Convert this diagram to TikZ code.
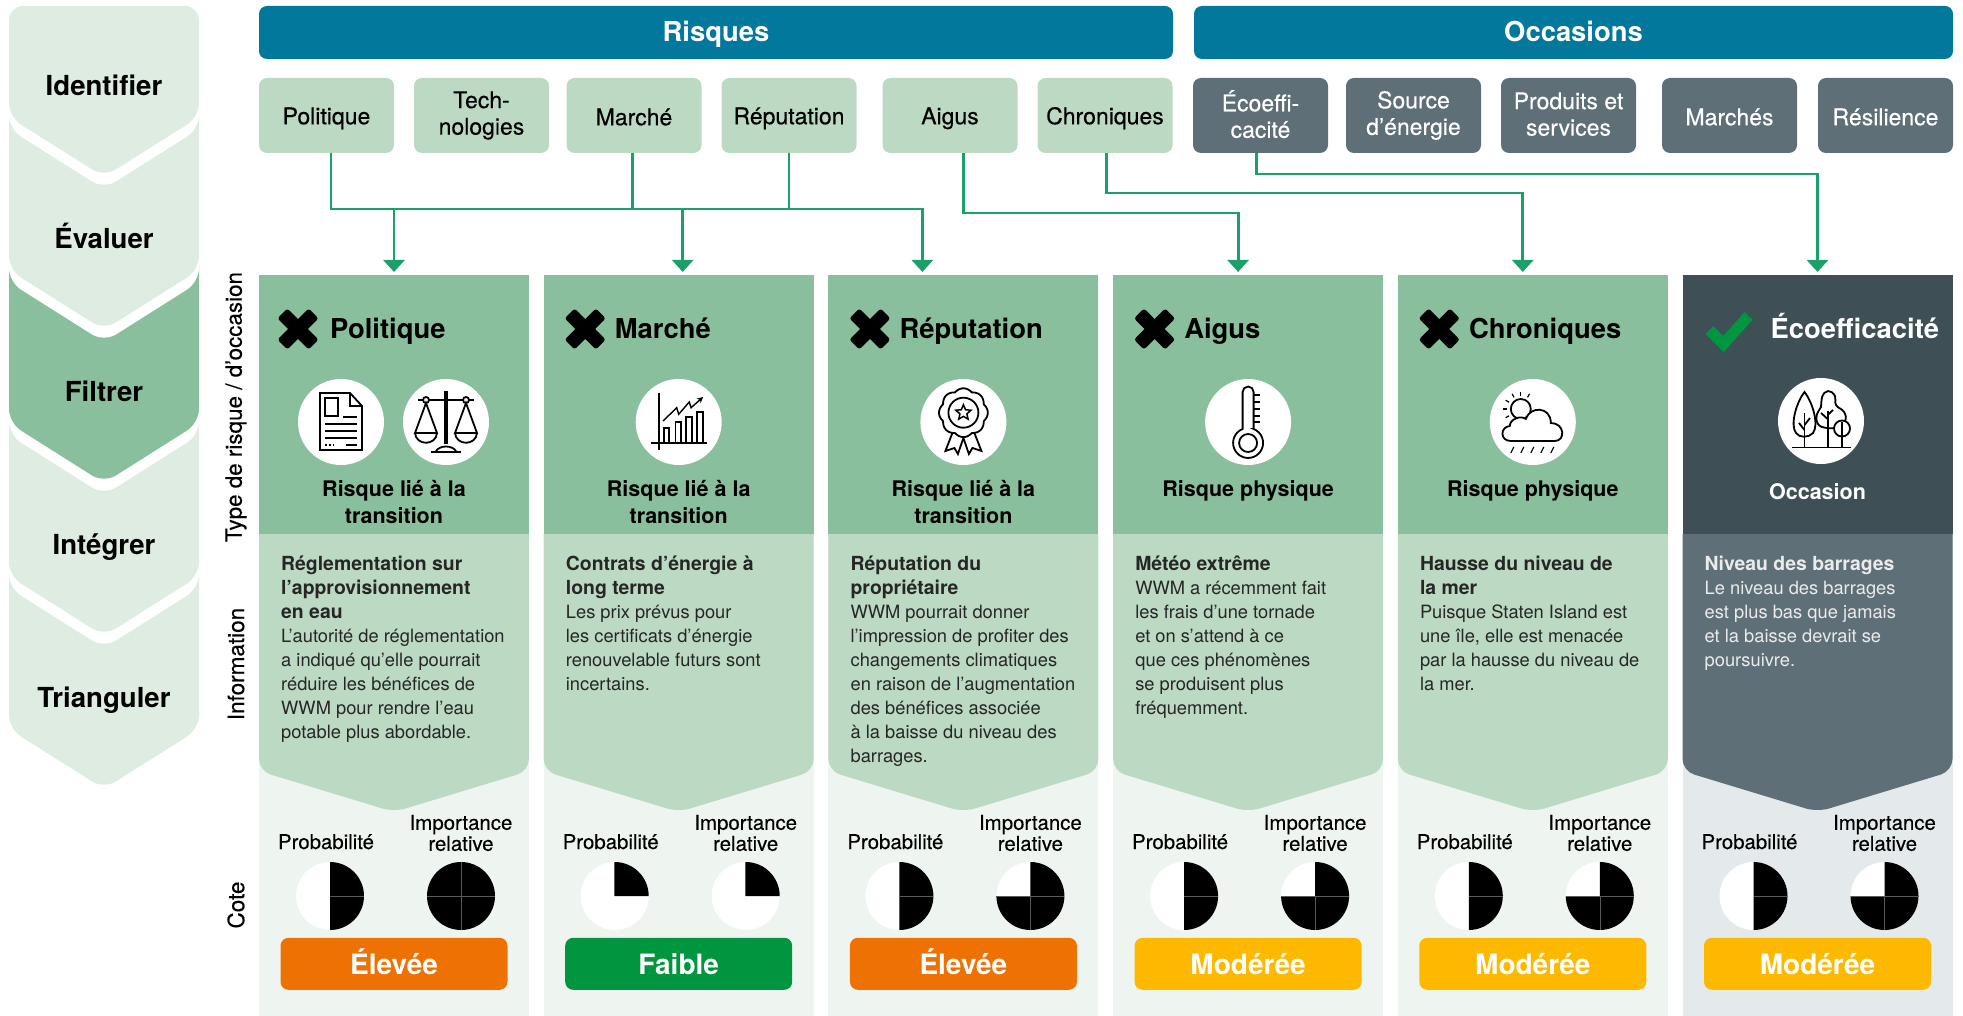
\documentclass[tikz,border=0pt]{standalone}
\usepackage{fontspec}
\setmainfont{TeX Gyre Heros}
\newfontfamily\medfont[FakeBold=0.3]{TeX Gyre Heros}
\usetikzlibrary{arrows.meta, positioning, shapes.geometric}

\definecolor{barblue}{HTML}{02789D}
\definecolor{palegreen}{HTML}{DFECE2}
\definecolor{midgreen}{HTML}{89BF9C}
\definecolor{softgreen}{HTML}{BCD9C3}
\definecolor{mistgreen}{HTML}{EEF4F0}
\definecolor{slate}{HTML}{5F6F77}
\definecolor{darkslate}{HTML}{3F4F56}
\definecolor{mistgrey}{HTML}{E4E9EC}
\definecolor{linkgreen}{HTML}{19A06B}
\definecolor{highrate}{HTML}{EE7203}
\definecolor{lowrate}{HTML}{009640}
\definecolor{midrate}{HTML}{FDB900}

% chevrons on the left: tip, top, colour
\newcommand{\stepshape}[3]{
  \fill[#3, rounded corners=14pt] (9,-#2) -- (9,-#1+55) -- (104,-#1-5) -- (199,-#1+55) -- (199,-#2) -- cycle;}
\newcommand{\stepgap}[2]{
  \fill[white, rounded corners=14pt] (9,-#2) -- (9,-#1+43) -- (104,-#1-17) -- (199,-#1+43) -- (199,-#2) -- cycle;}
% bold lead of the text blocks
\newcommand{\lead}[1]{{\fontsize{19.4}{24}\bfseries\selectfont #1}}
% panel with a point under the header
\newcommand{\infopanel}[2]{
  \fill[#2] (#1.south east) -- (#1.south west) [rounded corners=12pt] -- ++(0,-237) -- ++(135,-41) -- ++(135,41) [sharp corners] -- (#1.south east) -- cycle;}
% header, x in the header
\newcommand{\crossmark}[2]{
  \begin{scope}[shift={(#1.north west)}, shift={(#2,-54)}]
    \fill[black, rounded corners=2.5pt, rotate=45] (-22,-7) rectangle (22,7);
    \fill[black, rounded corners=2.5pt, rotate=-45] (-22,-7) rectangle (22,7);
  \end{scope}}
% rating disc: name, panel, x in the panel, black part, inner lines
\newcommand{\ratepie}[5]{
  \node (#1) [piedisc] at ([shift={(#3,-362)}]#2.north west) {};
  \fill[black] (#1.center) -- ++(0,34) arc[start angle=90, delta angle=-#4, radius=34pt] -- cycle;
  \foreach \a in {#5} \draw[pieline] (#1.center) -- ++(\a:34pt);}

\newcommand{\icondoc}[1]{
  \begin{scope}[shift={(#1.center)}, icon]
    \draw (-21,29) -- (9,29) -- (21,16) -- (21,-28) -- (-21,-28) -- cycle;
    \draw (9,29) -- (9,16) -- (21,16);
    \draw (-16,24) rectangle (-3,6);
    \draw (2,5) -- (16,5);
    \draw (-16,-2) -- (16,-2);
    \draw (-16,-9) -- (16,-9);
    \draw (-16,-16) -- (16,-16);
    \draw[dotted] (-16,-23) -- (-6,-23);
    \draw (5,-23) -- (16,-23);
  \end{scope}}
\newcommand{\iconscales}[1]{
  \begin{scope}[shift={(#1.center)}, icon]
    \draw[line width=3.5pt] (0,31) -- (0,-22);
    \draw (-28,22) -- (28,22);
    \draw (-15,-30) -- (15,-30);
    \draw (-10,-29) .. controls (-6,-23) and (6,-23) .. (10,-29);
    \draw[fill=white] (-20,22) circle (3pt);
    \draw[fill=white] (20,22) circle (3pt);
    \draw (-20,19) -- (-31,-11) -- (-9,-11) -- cycle;
    \draw (20,19) -- (31,-11) -- (9,-11) -- cycle;
    \draw (-31,-11) .. controls (-30,-24) and (-10,-24) .. (-9,-11);
    \draw (31,-11) .. controls (30,-24) and (10,-24) .. (9,-11);
  \end{scope}}
\newcommand{\iconchart}[1]{
  \begin{scope}[shift={(#1.center)}, icon]
    \draw (-20,29) -- (-20,-28);
    \draw (-28,-21) -- (28,-21);
    \draw (-15,-21) rectangle (-9.5,-6);
    \draw (-3.3,-21) rectangle (2,0);
    \draw (7.6,-21) rectangle (13,5);
    \draw (18,-21) rectangle (24,10);
    \draw[line width=1.4pt, -{Stealth[length=6pt, width=6pt]}] (-15.6,1) -- (-2,14.3) -- (0,7.7) -- (10.5,20) -- (12.4,14.3) -- (24.4,25);
  \end{scope}}
\newcommand{\iconribbon}[1]{
  \begin{scope}[shift={(#1.center)}, icon]
    \draw (-11,-11) -- (-18,-29) -- (-9,-26) -- (-5.5,-32) -- (0,-16) -- (5.5,-32) -- (9,-26) -- (18,-29) -- (11,-11);
    \draw[fill=white] plot[domain=0:360, samples=97, smooth] ({(22+2.4*abs(cos(4*\x)))*cos(\x)},{9.3+(22+2.4*abs(cos(4*\x)))*sin(\x)});
    \draw (0,9.3) circle (15pt);
    \node (#1star) [draw, star, star points=5, star point ratio=2.2, inner sep=0pt, minimum size=16pt, line width=1.5pt] at (0,9.3) {};
  \end{scope}}
\newcommand{\iconthermo}[1]{
  \begin{scope}[shift={(#1.center)}, icon]
    \draw (5.5,-7) -- (5.5,30) arc[start angle=0, end angle=180, radius=5.5pt] -- (-5.5,-7) arc[start angle=111.5, delta angle=317, radius=15pt] -- cycle;
    \draw (0,-21) circle (9pt);
    \foreach \y in {27,20,13,6,0} \draw (5.5,\y) -- (12,\y);
  \end{scope}}
\newcommand{\iconcloud}[1]{
  \begin{scope}[shift={(#1.center)}, icon]
    \draw (-12,13) circle (10pt);
    \foreach \a in {60,90,120,150,180,210,240} \draw[line width=1.2pt] (-12,13) ++(\a:13.5pt) -- ++(\a:4pt);
    \draw[fill=white] (-22,-19) .. controls (-33,-19) and (-33,-5) .. (-23,-4) .. controls (-23,3) and (-12,7) .. (-7,3) .. controls (-3,16) and (18,16) .. (18,-1) .. controls (32,-1) and (33,-19) .. (22,-19) -- cycle;
    \foreach \x in {-19,-9,1,11,21} \draw[line width=1.2pt] (\x,-25) -- ++(-3,-6);
  \end{scope}}
\newcommand{\icontrees}[1]{
  \begin{scope}[shift={(#1.center)}, icon]
    \draw (-16.5,29) .. controls (-8,18) and (-2,-4) .. (-8,-12) .. controls (-12,-17) and (-22,-17) .. (-25,-12) .. controls (-31,-4) and (-25,18) .. (-16.5,29) -- cycle;
    \draw (-16.5,-26) -- (-16.5,8);
    \draw (-16.5,-4) -- (-11,3);
    \draw (-16.5,-9) -- (-22,-2);
    \draw plot[smooth cycle, tension=0.8] coordinates {(-3,-3) (-4,7) (0,14) (1,24) (7,30) (14,25) (15,16) (23,9) (24,0) (16,-6) (6,-7)};
    \draw (6.6,-26) -- (6.6,10);
    \draw (6.6,2) -- (0,8);
    \draw (6.6,6) -- (12,11);
    \draw[fill=white] (21,-7.5) circle (8pt);
    \draw (21,-26) -- (21,-1);
    \draw (-29,-26.5) -- (30,-26.5);
  \end{scope}}

\begin{document}
\begin{tikzpicture}[
x=1pt, y=1pt,
 node distance= 20pt,
     stepname/.style = {text height=20pt, text depth=6pt, font=\bfseries\fontsize{27.6}{30}\selectfont},
       topbar/.style = {fill=barblue, rounded corners=8pt, inner sep=0pt, outer sep=0pt,
                        minimum height=53pt, text=white, text height=23pt, text depth=4pt,
                        font=\bfseries\fontsize{27.4}{30}\selectfont},
      catbase/.style = {rounded corners=8pt, inner sep=0pt, outer sep=0pt, align=center,
                        minimum width=135pt, minimum height=75pt,
                        execute at begin node=\rule{0pt}{22.5pt},
                        execute at end node=\rule[-3pt]{0pt}{3pt},
                        font=\medfont\fontsize{23}{26.5}\selectfont},
      riskcat/.style = {catbase, fill=softgreen},
       oppcat/.style = {catbase, fill=slate, text=white},
     headbase/.style = {inner sep=0pt, outer sep=0pt, minimum width=270pt, minimum height=259pt},
     riskhead/.style = {headbase, fill=midgreen},
      opphead/.style = {headbase, fill=darkslate},
     ratebase/.style = {inner sep=0pt, outer sep=0pt, minimum width=270pt, minimum height=482pt},
        title/.style = {anchor=base west, inner sep=0pt, font=\bfseries\fontsize{27.4}{30}\selectfont},
      subhead/.style = {align=center, inner sep=0pt, font=\bfseries\fontsize{21.5}{27}\selectfont},
         disc/.style = {circle, fill=white, inner sep=0pt, minimum size=86pt},
     infotext/.style = {anchor=north west, align=left, inner sep=0pt, text=black!85,
                        font=\fontsize{18.3}{24}\selectfont},
    ratelabel/.style = {align=center, inner sep=0pt, font=\medfont\fontsize{20.4}{21}\selectfont},
      piedisc/.style = {circle, fill=white, inner sep=0pt, minimum size=68pt},
      pieline/.style = {draw=black!65, line width=0.6pt},
         pill/.style = {anchor=south, rounded corners=8pt, inner sep=0pt, minimum width=227pt,
                        minimum height=52pt, text=white, text height=24pt, text depth=3pt,
                        font=\bfseries\fontsize{28}{30}\selectfont},
       vlabel/.style = {rotate=90, inner sep=0pt, font=\medfont\fontsize{22.5}{24}\selectfont},
         link/.style = {-{Triangle[length=12pt, width=21pt]}, draw=linkgreen, line width=2.8pt, shorten >=3pt},
         icon/.style = {line width=1.8pt, draw=black}
                    ]
\useasboundingbox (0,0) rectangle (1963,-1016);

% left column, drawn from the bottom up
\stepshape{784}{560}{palegreen}
\stepgap{631}{410}
\stepshape{631}{410}{palegreen}
\stepgap{478}{250}
\stepshape{478}{250}{midgreen}
\stepgap{325}{100}
\stepshape{325}{100}{palegreen}
\stepgap{172}{40}
\stepshape{172}{6}{palegreen}
\node (step1) [stepname] at (104,-89)  {Identifier};
\node (step2) [stepname] at (104,-242) {Évaluer};
\node (step3) [stepname] at (104,-394) {Filtrer};
\node (step4) [stepname] at (104,-547) {Intégrer};
\node (step5) [stepname] at (104,-700) {Trianguler};

% top bars
\node (bar1) [topbar, anchor=north west, minimum width=914pt] at (259,-6)  {Risques};
\node (bar2) [topbar, anchor=north west, minimum width=759pt] at (1194,-6) {Occasions};

% categories
\node (risk1) [riskcat, anchor=north west] at (259,-78) {Politique};
\node (risk2) [riskcat, right=of risk1]      {Tech-\\nologies};
\node (risk3) [riskcat, right=17.5pt of risk2] {Marché};
\node (risk4) [riskcat, right=of risk3]      {Réputation};
\node (risk5) [riskcat, right=26pt of risk4] {Aigus};
\node (risk6) [riskcat, right=of risk5]      {Chroniques};
\node (opp1)  [oppcat, right=20.5pt of risk6]  {Écoeffi-\\cacité};
\node (opp2)  [oppcat, right=18pt of opp1]   {Source\\d’énergie};
\node (opp3)  [oppcat, right=of opp2]        {Produits et\\services};
\node (opp4)  [oppcat, right=26pt of opp3]   {Marchés};
\node (opp5)  [oppcat, right=21pt of opp4]   {Résilience};

% column headers and the panels under them
\node (head1) [riskhead, anchor=north west] at (259,-275) {};
\node (head2) [riskhead, right=14.7pt of head1] {};
\node (head3) [riskhead, right=14.7pt of head2] {};
\node (head4) [riskhead, right=14.7pt of head3] {};
\node (head5) [riskhead, right=14.7pt of head4] {};
\node (head6) [opphead,  right=14.7pt of head5] {};
\node (rate1) [ratebase, fill=mistgreen, below=0pt of head1] {};
\node (rate2) [ratebase, fill=mistgreen, below=0pt of head2] {};
\node (rate3) [ratebase, fill=mistgreen, below=0pt of head3] {};
\node (rate4) [ratebase, fill=mistgreen, below=0pt of head4] {};
\node (rate5) [ratebase, fill=mistgreen, below=0pt of head5] {};
\node (rate6) [ratebase, fill=mistgrey,  below=0pt of head6] {};
\infopanel{head1}{softgreen}
\infopanel{head2}{softgreen}
\infopanel{head3}{softgreen}
\infopanel{head4}{softgreen}
\infopanel{head5}{softgreen}
\infopanel{head6}{slate}

% connectors
\draw[link] ([xshift=4.5pt]risk1.south) -- ++(0,-56) coordinate (busleft) -| (head1.north);
\draw[link] ([xshift=-1.5pt]risk3.south) -- ++(0,-56) -| ([xshift=4pt]head2.north);
\draw[link] (risk4.south) -- ++(0,-56) coordinate (busright) -| ([xshift=-41pt]head3.north);
\draw[draw=linkgreen, line width=2.8pt] (busleft) -- (busright);
\draw[link] ([xshift=13.5pt]risk5.south) -- ++(0,-60) -| ([xshift=-10pt]head4.north);
\draw[link] ([xshift=1.5pt]risk6.south) -- ++(0,-40) -| ([xshift=-10pt]head5.north);
\draw[link] ([xshift=-4pt]opp1.south) -- ++(0,-21) -| (head6.north);

% side labels
\node (label1) [vlabel, font=\medfont\fontsize{22.4}{24}\selectfont] at (236,-407) {Type de risque / d’occasion};
\node (label2) [vlabel] at (236,-664) {Information};
\node (label3) [vlabel] at (236,-905) {Cote};

% Politique
\crossmark{head1}{39}
\node (title1) [title] at ([shift={(71,-63)}]head1.north west) {Politique};
\node (disc1a) [disc] at ([shift={(82,-147)}]head1.north west) {};
\node (disc1b) [disc] at ([shift={(187,-147)}]head1.north west) {};
\icondoc{disc1a}
\iconscales{disc1b}
\node (sub1) [subhead] at ([yshift=-227]head1.north) {Risque lié à la\\transition};
\node (text1) [infotext] at ([shift={(22,-22)}]head1.south west)
  {\lead{Réglementation sur}\\\lead{l’approvisionnement}\\\lead{en eau}\\L’autorité de réglementation\\a indiqué qu’elle pourrait\\réduire les bénéfices de\\WWM pour rendre l’eau\\potable plus abordable.};
\node (prob1) [ratelabel, anchor=base] at ([shift={(67,-315)}]rate1.north west) {Probabilité};
\node (imp1)  [ratelabel] at ([shift={(202,-299)}]rate1.north west) {Importance\\relative};
\ratepie{pie1a}{rate1}{71}{180}{0}
\ratepie{pie1b}{rate1}{202}{360}{0,90,180,-90}
\node (pill1) [pill, fill=highrate] at ([yshift=26]rate1.south) {Élevée};

% Marché
\crossmark{head2}{41.5}
\node (title2) [title] at ([shift={(71,-63)}]head2.north west) {Marché};
\node (disc2) [disc] at ([yshift=-147]head2.north) {};
\iconchart{disc2}
\node (sub2) [subhead] at ([yshift=-227]head2.north) {Risque lié à la\\transition};
\node (text2) [infotext] at ([shift={(22,-22)}]head2.south west)
  {\lead{Contrats d’énergie à}\\\lead{long terme}\\Les prix prévus pour\\les certificats d’énergie\\renouvelable futurs sont\\incertains.};
\node (prob2) [ratelabel, anchor=base] at ([shift={(67,-315)}]rate2.north west) {Probabilité};
\node (imp2)  [ratelabel] at ([shift={(202,-299)}]rate2.north west) {Importance\\relative};
\ratepie{pie2a}{rate2}{71}{90}{90}
\ratepie{pie2b}{rate2}{202}{90}{90}
\node (pill2) [pill, fill=lowrate] at ([yshift=26]rate2.south) {Faible};

% Réputation
\crossmark{head3}{41.5}
\node (title3) [title] at ([shift={(71,-63)}]head3.north west) {Réputation};
\node (disc3) [disc] at ([yshift=-147]head3.north) {};
\iconribbon{disc3}
\node (sub3) [subhead] at ([yshift=-227]head3.north) {Risque lié à la\\transition};
\node (text3) [infotext] at ([shift={(22,-22)}]head3.south west)
  {\lead{Réputation du}\\\lead{propriétaire}\\WWM pourrait donner\\l’impression de profiter des\\changements climatiques\\en raison de l’augmentation\\des bénéfices associée\\à la baisse du niveau des\\barrages.};
\node (prob3) [ratelabel, anchor=base] at ([shift={(67,-315)}]rate3.north west) {Probabilité};
\node (imp3)  [ratelabel] at ([shift={(202,-299)}]rate3.north west) {Importance\\relative};
\ratepie{pie3a}{rate3}{71}{180}{0}
\ratepie{pie3b}{rate3}{202}{270}{0,180,-90}
\node (pill3) [pill, fill=highrate] at ([yshift=26]rate3.south) {Élevée};

% Aigus
\crossmark{head4}{41.5}
\node (title4) [title] at ([shift={(71,-63)}]head4.north west) {Aigus};
\node (disc4) [disc] at ([yshift=-147]head4.north) {};
\iconthermo{disc4}
\node (sub4) [subhead] at ([yshift=-215.5]head4.north) {Risque physique};
\node (text4) [infotext] at ([shift={(22,-22)}]head4.south west)
  {\lead{Météo extrême}\\WWM a récemment fait\\les frais d’une tornade\\et on s’attend à ce\\que ces phénomènes\\se produisent plus\\fréquemment.};
\node (prob4) [ratelabel, anchor=base] at ([shift={(67,-315)}]rate4.north west) {Probabilité};
\node (imp4)  [ratelabel] at ([shift={(202,-299)}]rate4.north west) {Importance\\relative};
\ratepie{pie4a}{rate4}{71}{180}{0}
\ratepie{pie4b}{rate4}{202}{270}{0,180,-90}
\node (pill4) [pill, fill=midrate] at ([yshift=26]rate4.south) {Modérée};

% Chroniques
\crossmark{head5}{41.5}
\node (title5) [title] at ([shift={(71,-63)}]head5.north west) {Chroniques};
\node (disc5) [disc] at ([yshift=-147]head5.north) {};
\iconcloud{disc5}
\node (sub5) [subhead] at ([yshift=-215.5]head5.north) {Risque physique};
\node (text5) [infotext] at ([shift={(22,-22)}]head5.south west)
  {\lead{Hausse du niveau de}\\\lead{la mer}\\Puisque Staten Island est\\une île, elle est menacée\\par la hausse du niveau de\\la mer.};
\node (prob5) [ratelabel, anchor=base] at ([shift={(67,-315)}]rate5.north west) {Probabilité};
\node (imp5)  [ratelabel] at ([shift={(202,-299)}]rate5.north west) {Importance\\relative};
\ratepie{pie5a}{rate5}{71}{180}{0}
\ratepie{pie5b}{rate5}{202}{270}{0,180,-90}
\node (pill5) [pill, fill=midrate] at ([yshift=26]rate5.south) {Modérée};

% Écoefficacité
\draw[draw=lowrate, line width=11pt] ([shift={(27,-55)}]head6.north west) -- ([shift={(41,-69)}]head6.north west) -- ([shift={(66,-41)}]head6.north west);
\node (title6) [title, text=white] at ([shift={(88,-63)}]head6.north west) {Écoefficacité};
\node (disc6) [disc] at ([shift={(3.5,-146)}]head6.north) {};
\icontrees{disc6}
\node (sub6) [subhead, text=white] at ([yshift=-217]head6.north) {Occasion};
\node (text6) [infotext, text=white!92!black] at ([shift={(22,-22)}]head6.south west)
  {\lead{Niveau des barrages}\\Le niveau des barrages\\est plus bas que jamais\\et la baisse devrait se\\poursuivre.};
\node (prob6) [ratelabel, anchor=base] at ([shift={(67,-315)}]rate6.north west) {Probabilité};
\node (imp6)  [ratelabel] at ([shift={(202,-299)}]rate6.north west) {Importance\\relative};
\ratepie{pie6a}{rate6}{71}{180}{0}
\ratepie{pie6b}{rate6}{202}{270}{0,180,-90}
\node (pill6) [pill, fill=midrate] at ([yshift=26]rate6.south) {Modérée};
\end{tikzpicture}
\end{document}
